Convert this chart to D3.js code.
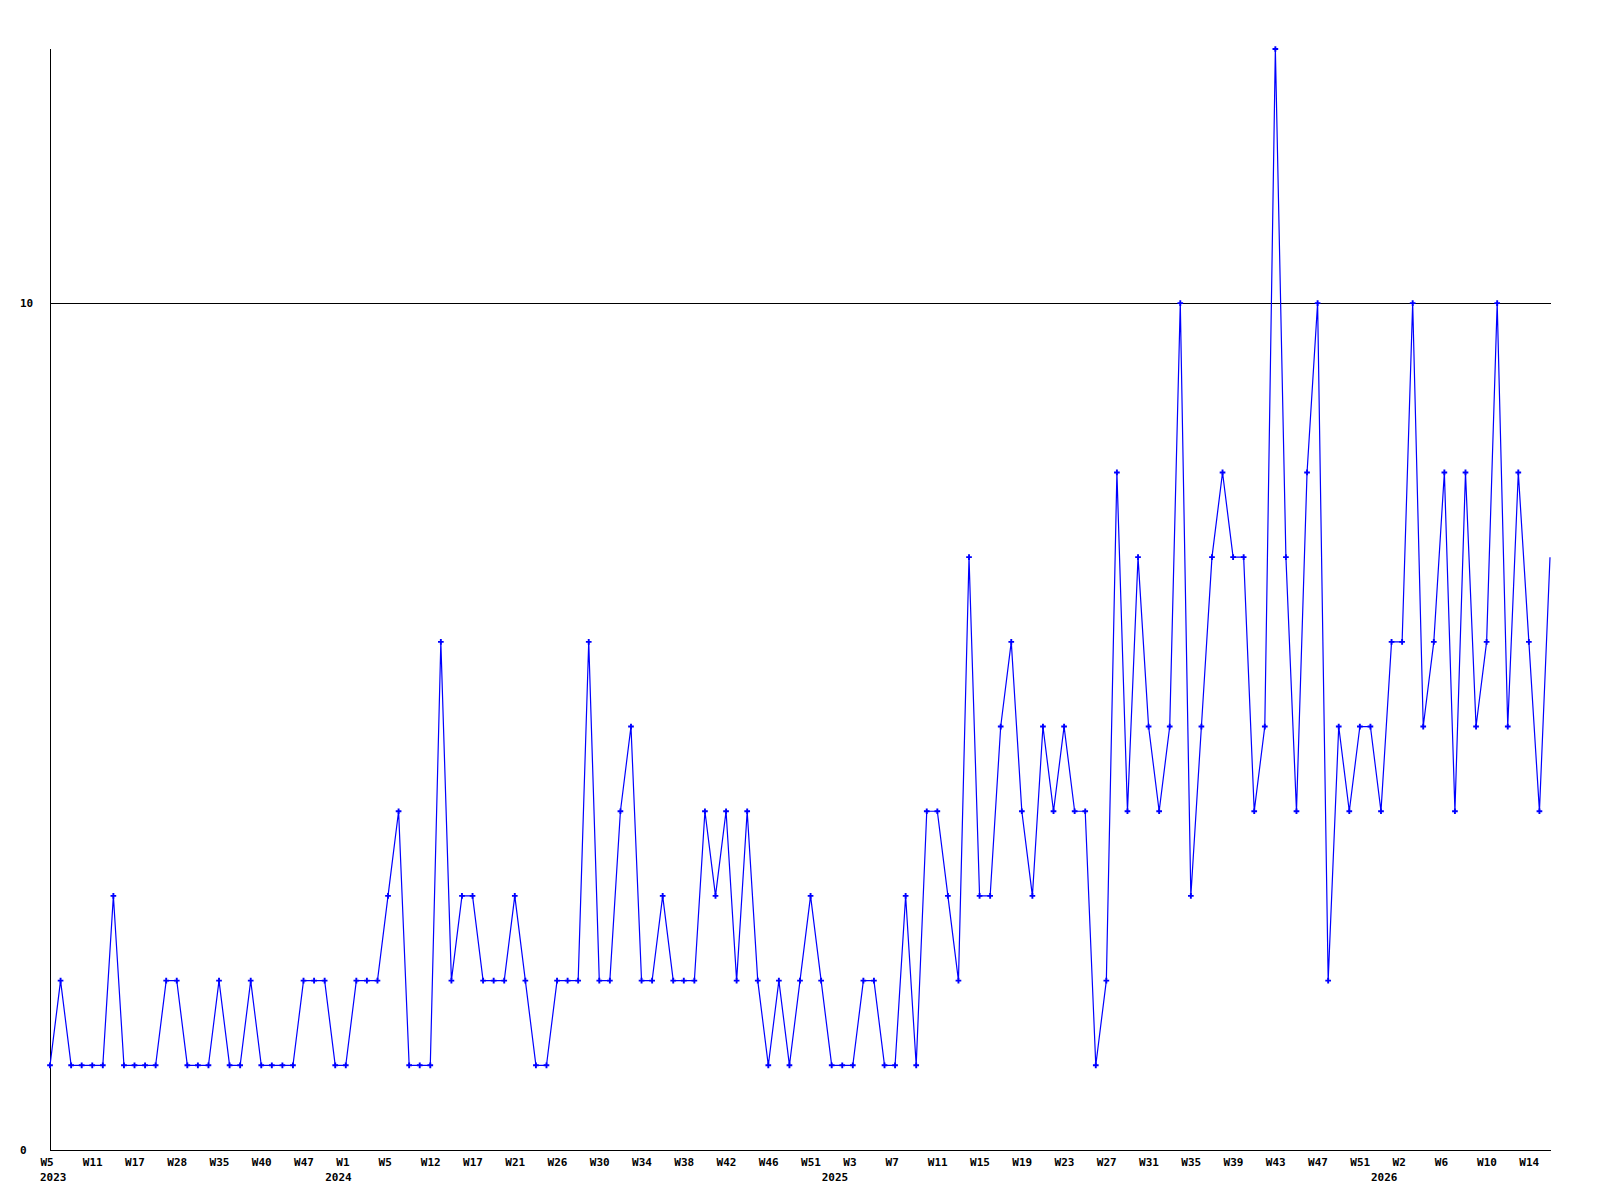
<!DOCTYPE html>
<html>
<head>
<meta charset="utf-8">
<script src="https://cdn.jsdelivr.net/npm/d3@7"></script>
<style>
  html, body { margin: 0; padding: 0; background: #fff; }
  svg { display: block; }
  text { font-family: "DejaVu Sans Mono", monospace; font-weight: bold; font-size: 11px; fill: #000; }
</style>
</head>
<body>
<svg id="chart" width="1600" height="1200"></svg>
<script>
// Weekly values (one per data point, in order)
const values = [
  1,2,1,1,1,1,3,1,1,1,
  1,2,2,1,1,1,2,1,1,2,
  1,1,1,1,2,2,2,1,1,2,
  2,2,3,4,1,1,1,6,2,3,
  3,2,2,2,3,2,1,1,2,2,
  2,6,2,2,4,5,2,2,3,2,
  2,2,4,3,4,2,4,2,1,2,
  1,2,3,2,1,1,1,2,2,1,
  1,3,1,4,4,3,2,7,3,3,
  5,6,4,3,5,4,5,4,4,1,
  2,8,4,7,5,4,5,10,3,5,
  7,8,7,7,4,5,13,7,4,8,
  10,2,5,4,5,5,4,6,6,10,
  5,6,8,4,8,5,6,10,5,8,
  6,4,7
];
// Week tick labels, shown on every 4th point
const weekLabels = ["W5","W11","W17","W28","W35","W40","W47","W1","W5","W12","W17","W21",
  "W26","W30","W34","W38","W42","W46","W51","W3","W7","W11","W15","W19","W23","W27",
  "W31","W35","W39","W43","W47","W51","W2","W6","W10","W14"];
const labelStep = 4;
// Year labels and the point index where each year begins
const years = ["2023","2024","2025","2026"];
const yearStartIndex = [0, 27, 74, 126];
const yTicks = [0, 10];
const yMax = 13;

const svg = d3.select("#chart");
const x = d3.scaleLinear().domain([0, values.length - 1]).range([50, 1550]);
const y = d3.scaleLinear().domain([0, yMax]).range([1150, 49]);

// gridline at 10
svg.append("line")
  .attr("x1", 50).attr("x2", 1551)
  .attr("y1", Math.round(y(10)) + 0.5).attr("y2", Math.round(y(10)) + 0.5)
  .attr("stroke", "#000").attr("stroke-width", 1).attr("shape-rendering", "crispEdges");

// x axis
const tickIdx = weekLabels.map((d, i) => i * labelStep);
const xAxis = d3.axisBottom(x).tickValues(tickIdx)
  .tickFormat((d, i) => weekLabels[i]).tickSize(0).tickSizeOuter(0).tickPadding(0);
const gx = svg.append("g").attr("transform", "translate(0,1150.5)").call(xAxis);
gx.select(".domain").attr("stroke", "#000").attr("shape-rendering", "crispEdges")
  .attr("d", "M50,0H1551");
gx.selectAll(".tick text").attr("text-anchor", "start").attr("dx", -10)
  .attr("dy", 0).attr("y", 15).attr("font-size", 11)
  .attr("font-family", "DejaVu Sans Mono").attr("font-weight", "bold");

// year labels
svg.append("g").selectAll("text").data(years).join("text")
  .attr("x", (d, i) => x(yearStartIndex[i]) - 10)
  .attr("y", 1181)
  .text(d => d);

// y axis
const yAxis = d3.axisLeft(y).tickValues(yTicks).tickSize(0).tickSizeOuter(0).tickPadding(0);
const gy = svg.append("g").attr("transform", "translate(50.5,0)").call(yAxis);
gy.select(".domain").attr("stroke", "#000").attr("shape-rendering", "crispEdges")
  .attr("d", "M0,49V1150");
gy.selectAll(".tick text").attr("text-anchor", "start").attr("x", -30.5)
  .attr("dy", 3.5).attr("font-size", 11)
  .attr("font-family", "DejaVu Sans Mono").attr("font-weight", "bold");

// line
const line = d3.line().x((d, i) => x(i)).y(d => y(d));
svg.append("path").datum(values)
  .attr("d", line)
  .attr("fill", "none").attr("stroke", "#0000ff").attr("stroke-width", 1.2);

// markers (not on last point, which sits on the plot edge)
const sym = d3.symbol().type(d3.symbolCross).size(18);
svg.append("g").selectAll("path").data(values.slice(0, -1)).join("path")
  .attr("transform", (d, i) => `translate(${x(i)},${y(d)})`)
  .attr("d", sym)
  .attr("fill", "#0000ff");
</script>
</body>
</html>
